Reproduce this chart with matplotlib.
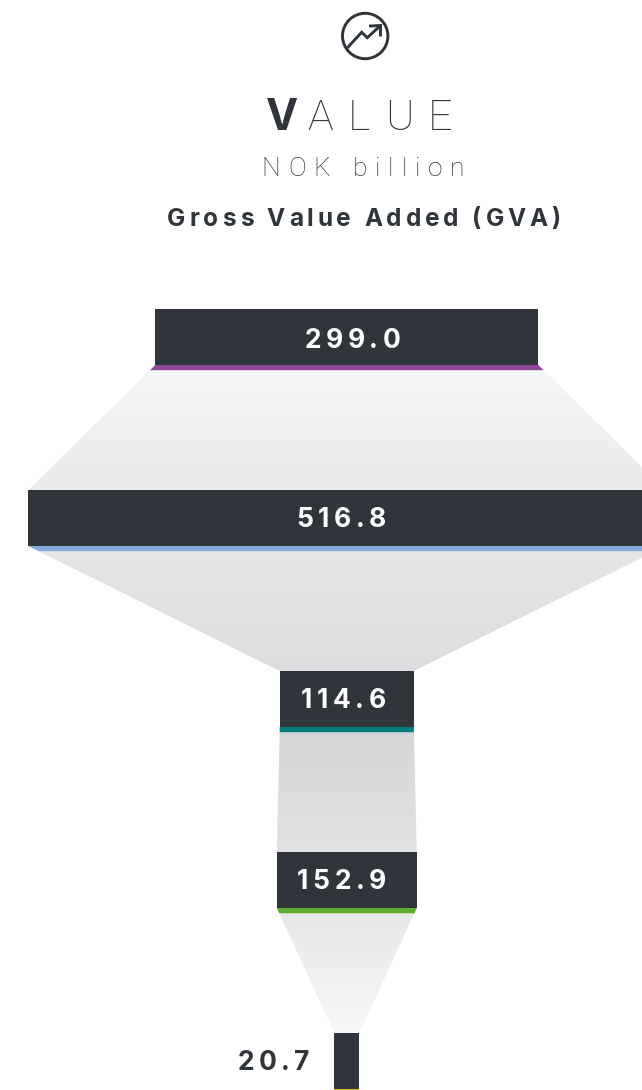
import numpy as np
import matplotlib
matplotlib.use("Agg")
import matplotlib.pyplot as plt
from matplotlib.patches import Circle, Polygon
from matplotlib.text import Text
from matplotlib.transforms import IdentityTransform, Bbox
from matplotlib.font_manager import FontProperties

# ---- data ----
values = [299.0, 516.8, 114.6, 152.9, 20.7]
drawn_widths = [383, 637, 134, 140, 25]      # drawn widths differ from values in the source
accents = ["#8e4a97", "#86aadd", "#007a7a", "#5fae2e", "#d8d020"]
title_bold = "V"
title_light = "ALUE"
unit = "NOK billion"
subtitle = "Gross Value Added (GVA)"
band_tops = ["#f5f6f6", "#e5e6e7", "#d5d6d8", "#e6e7e8"]
band_bottoms = ["#e9eaeb", "#dcdddf", "#e0e1e3", "#f6f7f7"]

DARK = "#2f353b"
FONT = "Inter"
CENTER = 346.8
BAR_TOPS = [309, 490, 671, 852, 1033]
BAR_H = 56
STRIPE = 5.2


class SpacedText(Text):
    """One text object drawn with letter-spacing (pixels)."""
    def __init__(self, *args, tracking=0, **kw):
        super().__init__(*args, **kw)
        self._tracking = tracking

    def _advances(self, renderer):
        fp = self.get_fontproperties()
        adv = []
        for c in self.get_text():
            if c == " ":
                a = renderer.get_text_width_height_descent("n n", fp, False)[0]
                b = renderer.get_text_width_height_descent("nn", fp, False)[0]
                adv.append(a - b)
            else:
                adv.append(renderer.get_text_width_height_descent(c, fp, False)[0])
        return adv

    def get_window_extent(self, renderer=None, dpi=None):
        if renderer is None:
            renderer = self.get_figure().canvas.get_renderer()
        adv = self._advances(renderer)
        total = sum(adv) + self._tracking * (len(adv) - 1)
        x0, y0 = self.get_transform().transform(self.get_position())
        h = self.get_fontproperties().get_size_in_points() * 100 / 72
        return Bbox([[x0 - total / 2, y0 - 0.25 * h], [x0 + total / 2, y0 + 0.8 * h]])

    def draw(self, renderer):
        adv = self._advances(renderer)
        total = sum(adv) + self._tracking * (len(adv) - 1)
        x0, y0 = self.get_transform().transform(self.get_position())
        x = x0 - total / 2
        for c, a in zip(self.get_text(), adv):
            t = Text(x, y0, c, fontproperties=self.get_fontproperties(),
                     color=self.get_color(), va="baseline", ha="left",
                     transform=IdentityTransform())
            t.set_figure(self.get_figure())
            t.draw(renderer)
            x += a + self._tracking


fig = plt.figure(figsize=(6.42, 10.9), dpi=100)
ax = fig.add_axes([0, 0, 1, 1])
ax.set_axis_off()


def spaced(cx, base, s, size, weight, track, color=DARK, family=FONT):
    t = SpacedText(cx, base, s, tracking=track, color=color, transform=ax.transData,
                   fontproperties=FontProperties(family=family, size=size, weight=weight))
    t.set_clip_on(False)
    ax.add_artist(t)
    return t


lefts = [CENTER - w / 2 for w in drawn_widths]
rights = [CENTER + w / 2 for w in drawn_widths]

# connecting bands with vertical gradient
for i in range(len(values) - 1):
    y0 = BAR_TOPS[i] + BAR_H
    y1 = BAR_TOPS[i + 1]
    poly = [(lefts[i], y0), (rights[i], y0), (rights[i + 1], y1), (lefts[i + 1], y1)]
    c0 = np.array(matplotlib.colors.to_rgb(band_tops[i]))
    c1 = np.array(matplotlib.colors.to_rgb(band_bottoms[i]))
    grad = np.linspace(c0, c1, 128)[:, None, :]
    im = ax.imshow(grad, extent=[min(lefts[i], lefts[i + 1]), max(rights[i], rights[i + 1]), y1, y0],
                   aspect="auto", interpolation="bilinear", zorder=1)
    patch = Polygon(poly, closed=True, transform=ax.transData, fc="none", ec="none")
    ax.add_patch(patch)
    im.set_clip_path(patch)
    # accent stripe: the top of the band in colour
    ls = (lefts[i + 1] - lefts[i]) * STRIPE / (y1 - y0)
    rs = (rights[i + 1] - rights[i]) * STRIPE / (y1 - y0)
    ax.add_patch(Polygon([(lefts[i], y0), (rights[i], y0), (rights[i] + rs, y0 + STRIPE),
                          (lefts[i] + ls, y0 + STRIPE)], closed=True, fc=accents[i], ec="none", zorder=2))

# bars
ax.bar([CENTER] * len(values), [BAR_H] * len(values), width=drawn_widths, bottom=BAR_TOPS,
       color=DARK, zorder=3)
ax.bar([CENTER], [1.2], width=[drawn_widths[-1]], bottom=[BAR_TOPS[-1] + BAR_H - 0.2],
       color=accents[-1], zorder=3)

# value labels
label_x = [352.5, 341.5, 343.5, 341.5, 273.5]
label_y = [348, 527, 708, 889, 1070]
for i, v in enumerate(values):
    spaced(label_x[i], label_y[i], f"{v:.1f}", 19, "bold", 4.6,
           color="white" if i < 4 else DARK)

# headings
spaced(282.5, 130, title_bold, 31, "bold", 0)
spaced(380, 130, title_light, 31, "light", 14.6, family="Roboto")
spaced(363, 176, unit, 19, "light", 7.9, family="Roboto")
spaced(364, 226, subtitle, 17.5, "bold", 3.9)

# icon
ax.add_patch(Circle((365.2, 36), 22.7, fc="none", ec=DARK, lw=2.1, zorder=4))
ax.plot([348, 361.7, 367.3, 380], [47, 32.3, 37.7, 26], color=DARK, lw=2.1, zorder=4,
        solid_joinstyle="miter")
ax.plot([370.5, 380.5, 380.5], [26, 25.5, 35], color=DARK, lw=2.1, zorder=4,
        solid_joinstyle="miter")

ax.set_xlim(0, 642)
ax.set_ylim(1090, 0)
fig.savefig("out.png", dpi=100, facecolor="white")
